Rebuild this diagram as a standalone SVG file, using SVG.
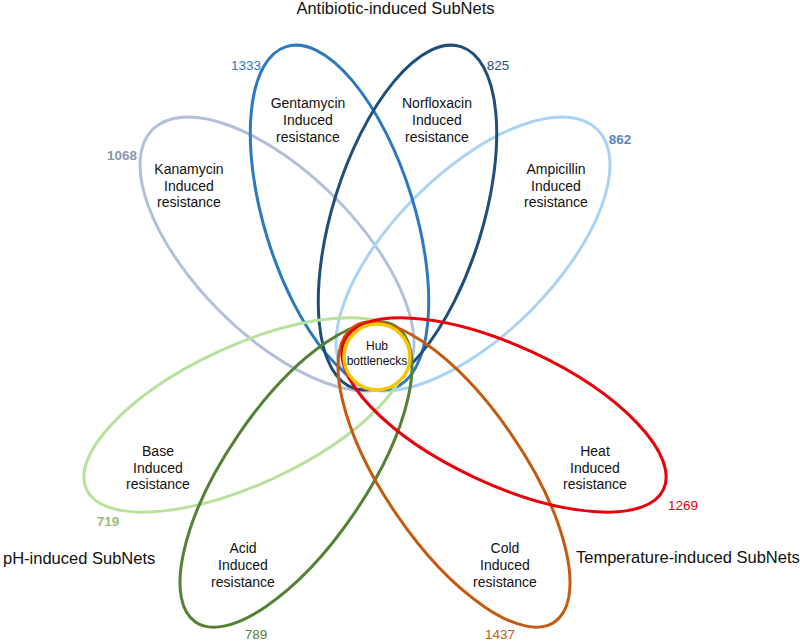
<svg xmlns="http://www.w3.org/2000/svg" width="800" height="641" viewBox="0 0 800 641">
<style>
text{font-family:"Liberation Sans",Arial,Helvetica,sans-serif;}
.set{fill:none;stroke-width:3;}
.lbl{font-size:14px;fill:#111;text-anchor:middle;}
.num{font-size:13.5px;text-anchor:middle;}
.b{font-weight:bold;}
.grp{font-size:16.5px;fill:#111;}
.hub{font-size:12px;fill:#111;text-anchor:middle;}
</style>
<rect width="800" height="641" fill="#fff"/>
<g id="titles">
<text class="grp" x="395.5" y="13.5" text-anchor="middle">Antibiotic-induced SubNets</text>
<text class="grp" x="3" y="564">pH-induced SubNets</text>
<text class="grp" x="576" y="563">Temperature-induced SubNets</text>
</g>
<g id="kanamycin">
<ellipse class="set" cx="277" cy="254" rx="81" ry="176" transform="rotate(-45 277 254)" stroke="#b4c0d9"/>
<text class="lbl" x="189"><tspan x="189" y="174">Kanamycin</tspan><tspan x="189" y="191">Induced</tspan><tspan x="189" y="207">resistance</tspan></text>
<text class="num b" x="122" y="160" fill="#8a97ad">1068</text>
</g>
<g id="ampicillin">
<ellipse class="set" cx="473" cy="254" rx="81" ry="176" transform="rotate(45 473 254)" stroke="#a9d2f5"/>
<text class="lbl"><tspan x="556" y="174">Ampicillin</tspan><tspan x="556" y="191">Induced</tspan><tspan x="556" y="207">resistance</tspan></text>
<text class="num b" x="620" y="144" fill="#5b86b8">862</text>
</g>
<g id="gentamycin">
<ellipse class="set" cx="339.5" cy="217.5" rx="75" ry="179" transform="rotate(-17.3 339.5 217.5)" stroke="#2e78c0"/>
<text class="lbl"><tspan x="308" y="108">Gentamycin</tspan><tspan x="308" y="125">Induced</tspan><tspan x="308" y="142">resistance</tspan></text>
<text class="num" x="246" y="70" fill="#2e78c0">1333</text>
</g>
<g id="norfloxacin">
<ellipse class="set" cx="407.5" cy="217.5" rx="75" ry="179" transform="rotate(17.3 407.5 217.5)" stroke="#1f4e79"/>
<text class="lbl"><tspan x="437" y="108">Norfloxacin</tspan><tspan x="437" y="125">Induced</tspan><tspan x="437" y="142">resistance</tspan></text>
<text class="num" x="498" y="70" fill="#1f4e79">825</text>
</g>
<g id="base">
<ellipse class="set" cx="246" cy="415" rx="176" ry="69" transform="rotate(-25 246 415)" stroke="#b6e29d"/>
<text class="lbl"><tspan x="158" y="456">Base</tspan><tspan x="158" y="473">Induced</tspan><tspan x="158" y="489">resistance</tspan></text>
<text class="num b" x="108" y="526" fill="#93bf78">719</text>
</g>
<g id="acid">
<ellipse class="set" cx="296" cy="474.5" rx="70" ry="178.5" transform="rotate(34.3 296 474.5)" stroke="#548235"/>
<text class="lbl"><tspan x="243" y="553">Acid</tspan><tspan x="243" y="570">Induced</tspan><tspan x="243" y="587">resistance</tspan></text>
<text class="num" x="256" y="639" fill="#548235">789</text>
</g>
<g id="cold">
<ellipse class="set" cx="454" cy="474.5" rx="70" ry="178.5" transform="rotate(-34.3 454 474.5)" stroke="#c55a11"/>
<text class="lbl"><tspan x="505" y="553">Cold</tspan><tspan x="505" y="570">Induced</tspan><tspan x="505" y="587">resistance</tspan></text>
<text class="num" x="500" y="639" fill="#c55a11">1437</text>
</g>
<g id="heat">
<ellipse class="set" cx="504" cy="415" rx="176" ry="69" transform="rotate(25 504 415)" stroke="#e8000b" stroke-width="3.5"/>
<text class="lbl"><tspan x="595" y="456">Heat</tspan><tspan x="595" y="473">Induced</tspan><tspan x="595" y="489">resistance</tspan></text>
<text class="num" x="683" y="510" fill="#e8000b">1269</text>
</g>
<g id="hub">
<circle cx="377" cy="357" r="33" fill="#fff" stroke="#f7c600" stroke-width="3.5"/>
<text class="hub"><tspan x="377" y="349.5">Hub</tspan><tspan x="377" y="365">bottlenecks</tspan></text>
</g>
</svg>
